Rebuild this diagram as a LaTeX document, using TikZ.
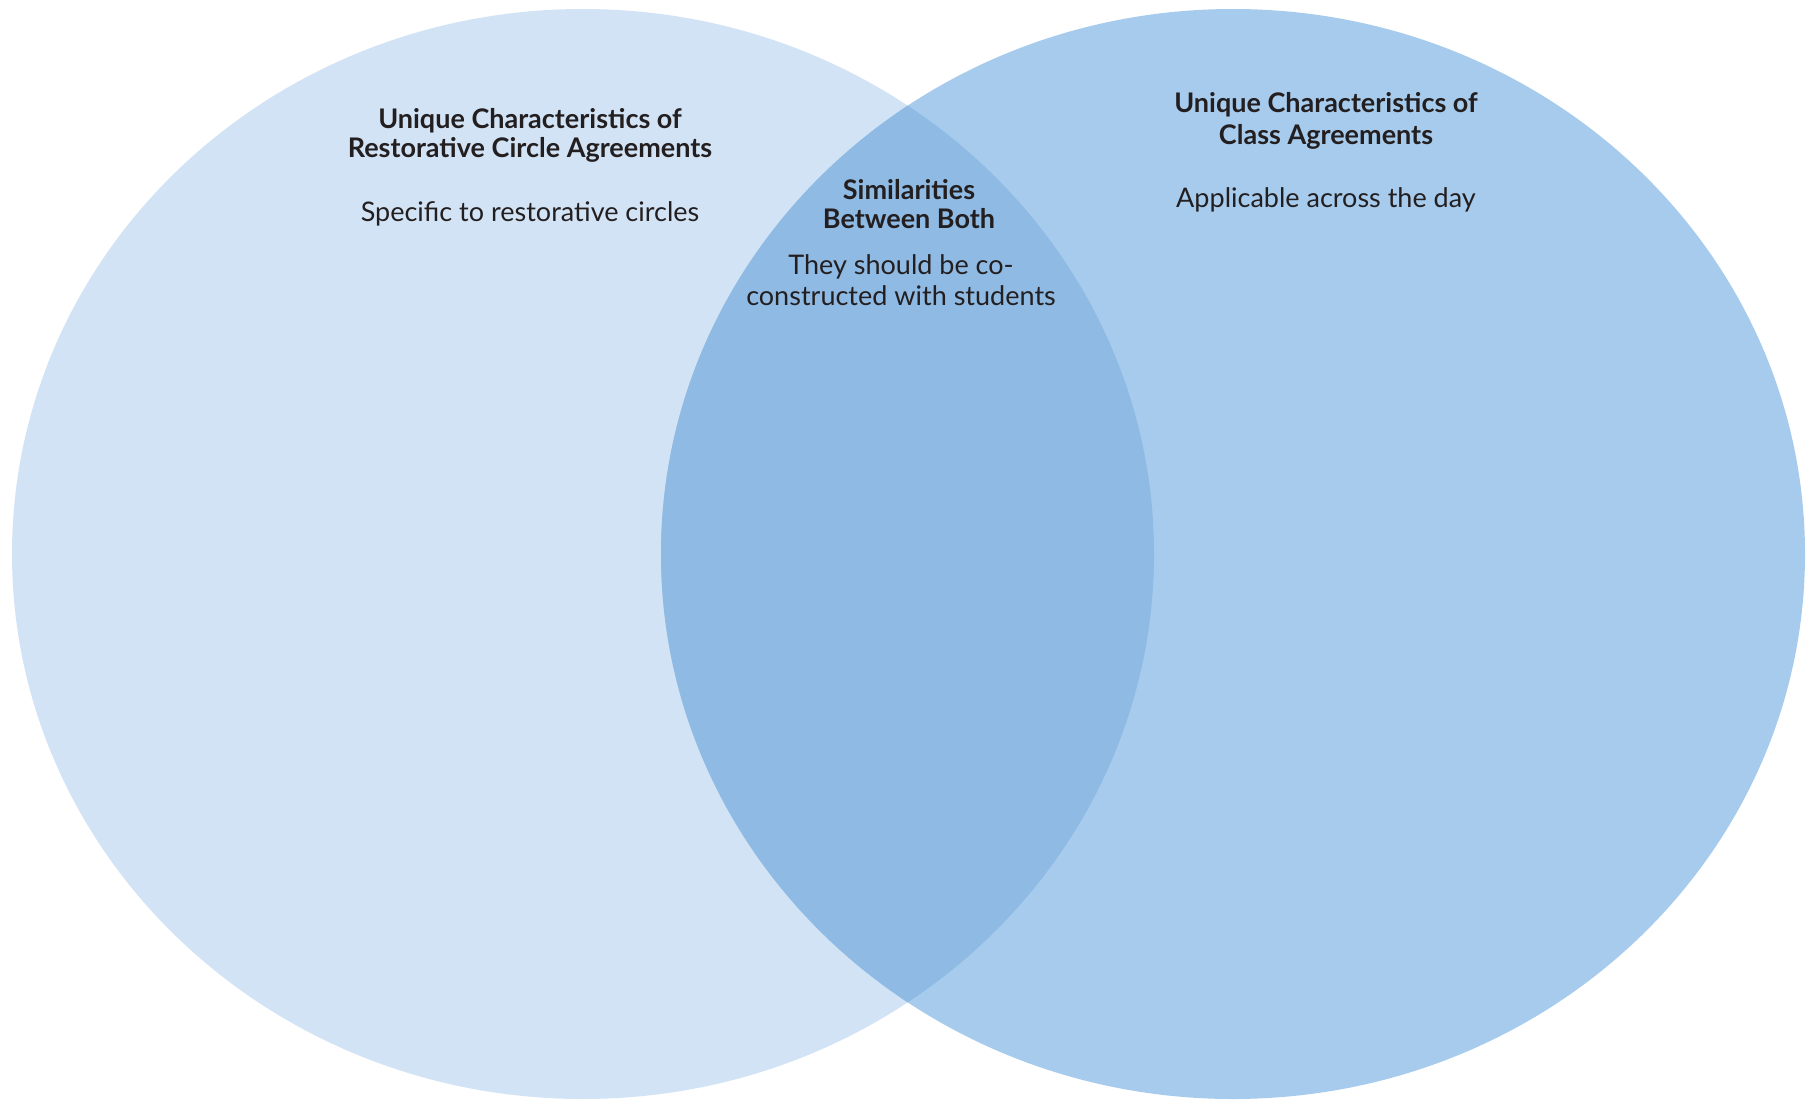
\documentclass[tikz,border=0pt]{standalone}
\usepackage{fontspec}
\setmainfont{Lato}
\definecolor{leftc}{RGB}{210,227,245}
\definecolor{rightc}{RGB}{167,203,236}
\definecolor{midc}{RGB}{143,186,227}
\definecolor{txt}{RGB}{35,31,32}
\begin{document}
\begin{tikzpicture}[x=1pt,y=-1pt,
  head/.style={font=\bfseries\fontsize{27}{29}\selectfont, text=txt, align=center, inner sep=0pt},
  body/.style={font=\fontsize{27}{31}\selectfont, text=txt, align=center, inner sep=0pt}]
\useasboundingbox (0,0) rectangle (1813,1100);
\fill[leftc] (583,554) ellipse [x radius=571, y radius=545];
\fill[rightc] (1233,554) ellipse [x radius=572, y radius=545];
\begin{scope}
\clip (583,554) ellipse [x radius=571, y radius=545];
\fill[midc] (1233,554) ellipse [x radius=572, y radius=545];
\end{scope}
\node[head] (lh) at (530,135) {Unique Characteristics of\\Restorative Circle Agreements};
\node[body] (lb) at (530,214) {Specific to restorative circles};
\node[head] (mh) at (909,204) {Similarities\\Between Both};
\node[body] (mb) at (901,280) {They should be co-\\constructed with students};
\node[head, font=\bfseries\fontsize{27}{32}\selectfont] (rh) at (1326,121) {Unique Characteristics of\\Class Agreements};
\node[body] (rb) at (1326,200) {Applicable across the day};
\end{tikzpicture}
\end{document}
